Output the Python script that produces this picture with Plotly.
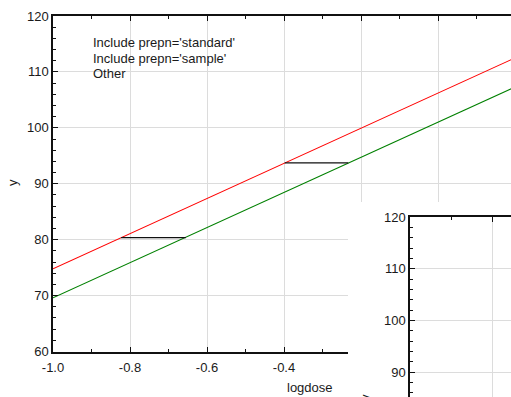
import plotly.graph_objects as go

W, H = 511, 397

# ---- data ----
std_logdose = [-1.0, 0.2]
std_y = [74.8, 112.5]
smp_logdose = [-1.0, 0.2]
smp_y = [69.6, 107.3]
seg1_x = [-0.823, -0.655]
seg1_y = [80.35, 80.35]
seg2_x = [-0.398, -0.233]
seg2_y = [93.75, 93.75]

x_tickvals = [-1.0, -0.8, -0.6, -0.4, -0.2, 0.0, 0.2]
x_ticktext = ["-1.0", "-0.8", "-0.6", "-0.4", "-0.2", "0.0", "0.2"]
y_tickvals = [60, 70, 80, 90, 100, 110, 120]
y_ticktext = ["60", "70", "80", "90", "100", "110", "120"]
legend_labels = ["Include prepn='standard'", "Include prepn='sample'", "Other"]
x_title = "logdose"
y_title = "y"


def fx(px):
    return px / W


def fy(py):
    return (H - py) / H


FONT = "Liberation Sans, Arial, sans-serif"
TXT = "#1a1a1a"
GRID = "#dcdcdc"

fig = go.Figure()
fig.add_trace(go.Scatter(x=std_logdose, y=std_y, mode="lines",
                         line=dict(color="#ff0000", width=1.1), xaxis="x", yaxis="y"))
fig.add_trace(go.Scatter(x=smp_logdose, y=smp_y, mode="lines",
                         line=dict(color="#008000", width=1.1), xaxis="x", yaxis="y"))
fig.add_trace(go.Scatter(x=seg1_x, y=seg1_y, mode="lines",
                         line=dict(color="#111111", width=1.2), xaxis="x", yaxis="y"))
fig.add_trace(go.Scatter(x=seg2_x, y=seg2_y, mode="lines",
                         line=dict(color="#111111", width=1.2), xaxis="x", yaxis="y"))
# blank cover panel and inset panel
fig.add_trace(go.Scatter(x=[], y=[], xaxis="x2", yaxis="y2", hoverinfo="skip"))
fig.add_trace(go.Scatter(x=[], y=[], xaxis="x3", yaxis="y3", hoverinfo="skip"))

common_axis = dict(
    showline=True, linecolor="#111111", linewidth=1.5,
    ticks="inside", ticklen=5, tickcolor="#111111", tickwidth=1,
    showgrid=True, gridcolor=GRID, gridwidth=1, zeroline=False,
    automargin=False,
    tickfont=dict(family=FONT, size=13, color=TXT),
)

fig.update_layout(
    template="none",
    width=W, height=H,
    margin=dict(l=0, r=0, t=0, b=0, pad=0, autoexpand=False),
    paper_bgcolor="white", plot_bgcolor="white",
    showlegend=False,
    xaxis=dict(domain=[fx(53), 1], range=[-1.0, -1.0 + (W - 53) / 385.0],
               tickmode="array", tickvals=x_tickvals, ticktext=x_ticktext,
               mirror="allticks", anchor="y", ticklabelstandoff=3,
               minor=dict(tickmode="linear", tick0=-1.0, dtick=0.1, ticks="inside",
                          ticklen=3, tickcolor="#111111", showgrid=False),
               **common_axis),
    yaxis=dict(domain=[fy(351.5), fy(16)], range=[60, 120],
               tickmode="array", tickvals=y_tickvals, ticktext=y_ticktext,
               mirror=False, anchor="x",
               minor=dict(tickmode="linear", tick0=60, dtick=2, ticks="inside",
                          ticklen=3, tickcolor="#111111", showgrid=False),
               **common_axis),
    xaxis2=dict(domain=[fx(348), 1], range=[0, 1], anchor="y2", automargin=False,
                showgrid=False, zeroline=False, showline=False,
                showticklabels=False, ticks=""),
    yaxis2=dict(domain=[0, fy(202)], range=[0, 1], anchor="x2", automargin=False,
                showgrid=False, zeroline=False, showline=False,
                showticklabels=False, ticks=""),
    xaxis3=dict(domain=[fx(410), 1], range=[-1.0, -1.0 + 0.2 * (W - 410) / 82.0],
                tickmode="array", tickvals=x_tickvals, ticktext=x_ticktext,
                side="top", showticklabels=False, anchor="y3",
                minor=dict(tickmode="linear", tick0=-1.0, dtick=0.1, ticks="inside",
                           ticklen=3, tickcolor="#111111", showgrid=False),
                **common_axis),
    yaxis3=dict(domain=[0, fy(217)], range=[120 - (H - 217) / 5.17, 120],
                tickmode="array", tickvals=y_tickvals, ticktext=y_ticktext,
                anchor="x3",
                minor=dict(tickmode="linear", tick0=60, dtick=2, ticks="inside",
                           ticklen=3, tickcolor="#111111", showgrid=False),
                **common_axis),
)

annotations = []
for i, lab in enumerate(legend_labels):
    annotations.append(dict(text=lab, x=fx(91), y=fy(43 + 15.5 * i), xref="paper", yref="paper",
                            xanchor="left", yanchor="middle", showarrow=False,
                            font=dict(family=FONT, size=13, color=TXT)))
annotations.append(dict(text=x_title, x=fx(310), y=fy(387), xref="paper", yref="paper",
                        xanchor="center", yanchor="middle", showarrow=False,
                        font=dict(family=FONT, size=13, color=TXT)))
annotations.append(dict(text=y_title, x=fx(12), y=fy(183), xref="paper", yref="paper",
                        xanchor="center", yanchor="middle", showarrow=False, textangle=-90,
                        font=dict(family=FONT, size=13, color=TXT)))
annotations.append(dict(text=y_title, x=fx(365), y=fy(398), xref="paper", yref="paper",
                        xanchor="center", yanchor="middle", showarrow=False, textangle=-90,
                        font=dict(family=FONT, size=13, color=TXT)))
fig.update_layout(annotations=annotations)

fig.write_html("out.html")
